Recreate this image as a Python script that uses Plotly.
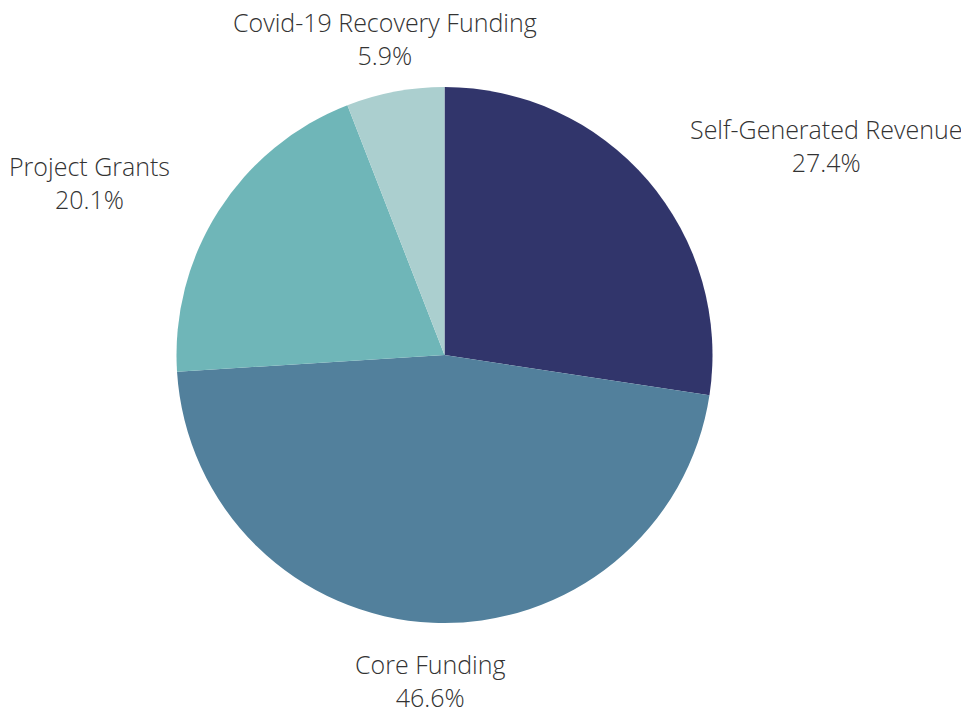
import math
import plotly.graph_objects as go

labels = ["Self-Generated Revenue", "Core Funding", "Project Grants", "Covid-19 Recovery Funding"]
values = [27.4, 46.6, 20.1, 5.9]
colors = ["#31356b", "#52809c", "#6fb6b8", "#abcfcf"]

OFF = 8                       # page body margin in the browser
W, H = 969 - OFF, 711 - OFF   # figure size so it fits the window
cx, cy, R = 444.5 - OFF, 355.0 - OFF, 268.0   # pie centre / radius in figure pixels
label_r = 324.0               # distance of label anchor from centre

fig = go.Figure(go.Pie(
    labels=labels,
    values=values,
    sort=False,
    direction="clockwise",
    rotation=0,
    marker=dict(colors=colors, line=dict(width=0)),
    textinfo="none",
    hoverinfo="label+percent",
    showlegend=False,
    domain=dict(x=[(cx - R) / W, (cx + R) / W],
                y=[(H - cy - R) / H, (H - cy + R) / H]),
))

total = sum(values)
cum = 0.0
for lab, val in zip(labels, values):
    mid = (cum + val / 2) / total * 2 * math.pi
    cum += val
    vx, vy = math.sin(mid), -math.cos(mid)
    px, py = cx + label_r * vx, cy + label_r * vy
    if vx > 0.5:
        xa, xs = "left", -2
    elif vx < -0.5:
        xa, xs = "right", 1
    else:
        xa, xs = "center", 0
    fig.add_annotation(
        x=px / W, y=1 - py / H, xref="paper", yref="paper",
        xanchor=xa, yanchor="middle", xshift=xs, yshift=-2,
        showarrow=False, align="center",
        text=f"{lab}<br>{val / total * 100:.1f}%",
        font=dict(family="Open Sans", size=25, color="#333333", weight=300),
    )

fig.update_layout(
    width=W, height=H,
    margin=dict(l=0, r=0, t=0, b=0),
    paper_bgcolor="white",
    plot_bgcolor="white",
    font=dict(family="Open Sans"),
)
fig.write_html("out.html")
